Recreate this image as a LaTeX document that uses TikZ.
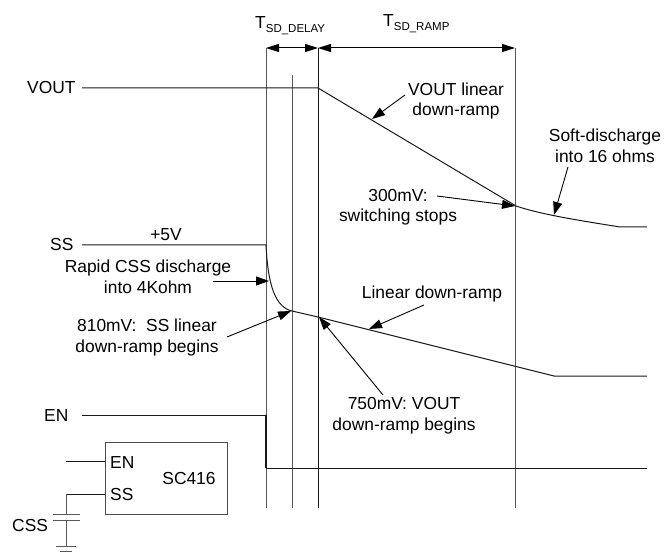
\documentclass[tikz,border=0pt]{standalone}
\usepackage{fontspec}
\setmainfont{Liberation Sans}
\usetikzlibrary{arrows.meta}
\tikzset{
 lbl/.style={inner sep=0pt,align=center,font=\fontsize{17.4}{20.5}\selectfont},
 trace/.style={line width=1pt,black!90},
 grid/.style={line width=1pt,black!65},
 call/.style={line width=0.9pt,-{Triangle[length=13pt,width=9pt]}},
 dim/.style={line width=1pt,{Triangle[length=13pt,width=8pt]}-{Triangle[length=13pt,width=8pt]}},
}
\newcommand{\Tsub}[1]{T\raisebox{-4pt}{\fontsize{11.5}{12}\selectfont #1}}
\begin{document}
\begin{tikzpicture}[x=1pt,y=-1pt]
\useasboundingbox (0,0) rectangle (664,553);
\coordinate (a0) at (266,48); \coordinate (a1) at (266,508);
\coordinate (b0) at (292,75); \coordinate (b1) at (292,508);
\coordinate (c0) at (318,48); \coordinate (c1) at (318,508);
\coordinate (d0) at (515,48); \coordinate (d1) at (515,508);
\draw[grid] (a0)--(a1); \draw[grid] (b0)--(b1);
\draw[trace] (c0)--(c1); \draw[grid] (d0)--(d1);
\draw[dim] (a0)--(c0);
\draw[dim] (c0)--(d0);
\node[lbl,anchor=base west] at (255,29) {\Tsub{SD\_DELAY}};
\node[lbl,anchor=base west] at (383,27) {\Tsub{SD\_RAMP}};
\node[lbl,anchor=base west] (vout) at (27,94) {VOUT};
\coordinate (v1) at (82,88); \coordinate (v2) at (318,88); \coordinate (v3) at (516,206);
\coordinate (v4) at (620,227); \coordinate (v5) at (647,227);
\draw[trace] (v1)--(v2)--(v3) .. controls (540,214) and (570,219) .. (v4)--(v5);
\node[lbl,anchor=base west] (ss) at (50,251) {SS};
\node[lbl] (p5) at (166,235) {+5V};
\coordinate (s1) at (82,245); \coordinate (s2) at (266,245); \coordinate (s3) at (292,311);
\coordinate (s4) at (318,317); \coordinate (s5) at (554,376); \coordinate (s6) at (647,376);
\draw[trace] (s1)--(s2) .. controls (268,285) and (275,307) .. (s3)--(s4)--(s5)--(s6);
\node[lbl,anchor=base west] (en) at (44,421) {EN};
\coordinate (e1) at (82,415); \coordinate (e2) at (266,415); \coordinate (e3) at (266,468); \coordinate (e4) at (647,468);
\draw[trace] (e1)--(e2);
\draw[trace,line width=1.6pt] (e2)--(e3);
\draw[trace] (e3)--(e4);
\node[lbl] (l1) at (456,101) {VOUT linear\\down-ramp};
\draw[call] (405,95) -- (372,119);
\node[lbl] (l3) at (605,146) {Soft-discharge\\into 16 ohms};
\draw[call] (568,167) -- (554,215);
\node[lbl] (l4) at (398,207) {300mV:\\switching stops};
\draw[call] (437,196) -- (515,206);
\node[lbl] (l5) at (148,277) {Rapid CSS discharge\\into 4Kohm};
\draw[call] (213,281) -- (269,281);
\node[lbl] (l6) at (147,337.5) {810mV:\ \ SS linear\\down-ramp begins};
\draw[call] (227,337) -- (291,311);
\node[lbl] (l7) at (432,294) {Linear down-ramp};
\draw[call] (424,305) -- (369,329);
\node[lbl] (l8) at (404,415.5) {750mV: VOUT\\down-ramp begins};
\draw[call] (383,395) -- (319,317);
\node[draw=black!70,line width=1pt,minimum width=122pt,minimum height=72pt,inner sep=0pt] (ic) at (166,478) {};
\node[lbl] at (189,479) {SC416};
\node[lbl,anchor=base west] at (110,468) {EN};
\node[lbl,anchor=base west] at (110,500) {SS};
\coordinate (ena) at (66,461); \coordinate (enb) at (105,461);
\coordinate (ssb) at (105,494); \coordinate (ssa) at (66,494);
\coordinate (p1) at (66,514); \coordinate (p2) at (66,520); \coordinate (g) at (66,546);
\draw[trace] (ena)--(enb);
\draw[trace] (ssb)--(ssa);
\draw[grid] (ssa)--(p1) (p2)--(g);
\draw[grid] (53,514)--(80,514) (53,520)--(80,520);
\draw[grid] (56,546)--(76,546) (60,551)--(72,551);
\node[lbl,anchor=base west] at (12,531) {CSS};
\end{tikzpicture}
\end{document}
